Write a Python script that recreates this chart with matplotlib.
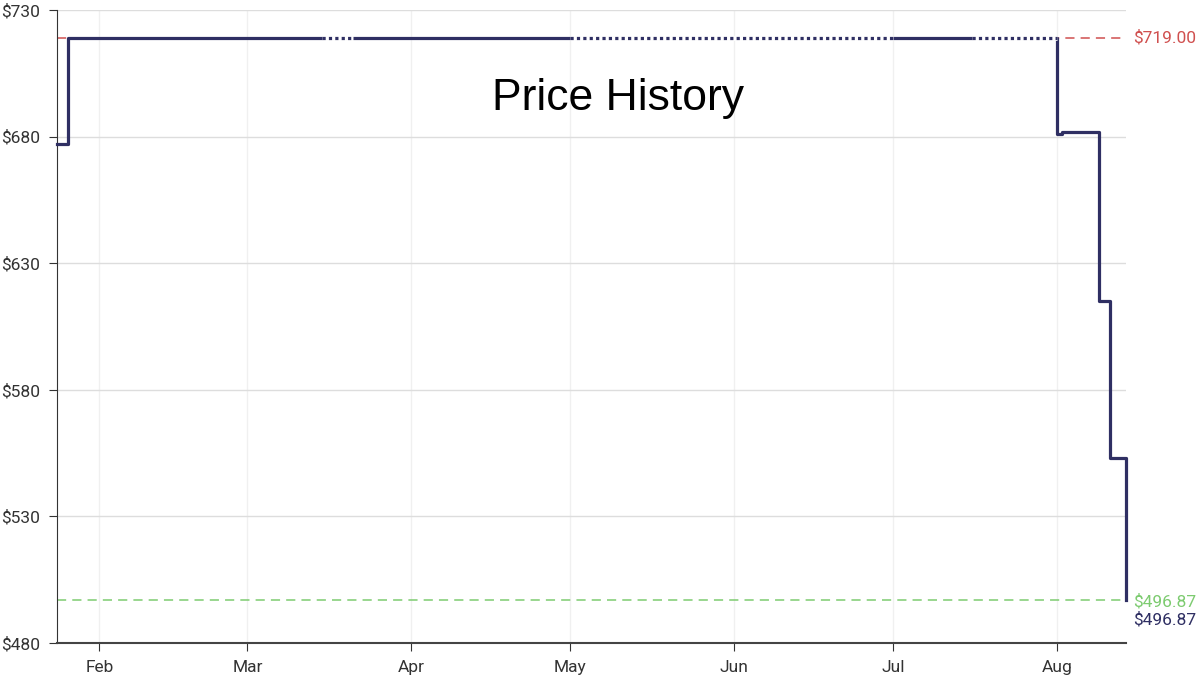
import matplotlib
matplotlib.use("Agg")
import matplotlib.pyplot as plt
import matplotlib.dates as mdates
import numpy as np
import pandas as pd

# price change points (step, held until next date)
dates = pd.to_datetime(["2025-01-24", "2025-01-26", "2025-08-01", "2025-08-02",
                        "2025-08-09", "2025-08-11", "2025-08-14"])
prices = [677, 719, 681, 682, 615, 553, 496.87]

# stretches with no data (drawn dotted)
gap_start = pd.to_datetime(["2025-03-15", "2025-05-01", "2025-07-16"])
gap_end = pd.to_datetime(["2025-03-21", "2025-07-01", "2025-08-01"])
gap_price = [719, 719, 719]

high_price = 719.00
low_price = 496.87
last_price = 496.87

yticks = [480, 530, 580, 630, 680, 730]
x_start = pd.Timestamp("2025-01-24")
x_end = pd.Timestamp("2025-08-14")

navy = "#2f2f63"
red = "#d0504f"
green = "#7dcb70"

plt.rcParams["font.family"] = ["Roboto", "DejaVu Sans"]

fig = plt.figure(figsize=(12, 6.81), dpi=100)
ax = fig.add_axes([0.0475, 0.0558, 0.8905, 0.9295])

ax.axhline(high_price, color=red, lw=1.1, ls=(0, (6, 4)), zorder=1)
ax.axhline(low_price, color=green, lw=1.1, ls=(0, (6, 4)), zorder=1)

ax.step(dates, prices, where="post", color=navy, lw=2.3, zorder=3, clip_on=False)
for s, e, p in zip(gap_start, gap_end, gap_price):
    ax.plot([s, e], [p, p], color="white", lw=3.5, zorder=4, solid_capstyle="butt")
    ax.plot([s, e], [p, p], color=navy, lw=2.3, ls=(0, (1, 1)), zorder=5)

ax.set_xlim(x_start, x_end)
ax.set_ylim(480, 730)
ax.set_yticks(yticks)
ax.set_yticklabels([f"${v}" for v in yticks])
ax.xaxis.set_major_locator(mdates.MonthLocator())
ax.xaxis.set_major_formatter(mdates.DateFormatter("%b"))

ax.grid(axis="y", color="#dddddd", lw=1)
ax.grid(axis="x", color="#f0f0f0", lw=1)
ax.set_axisbelow(True)
for side in ["top", "right"]:
    ax.spines[side].set_visible(False)
ax.spines["left"].set_color("#333333")
ax.spines["bottom"].set_color("#444444")
ax.spines["bottom"].set_linewidth(1.5)
ax.tick_params(axis="both", colors="#333333", labelsize=12.5, length=6, pad=6)
ax.tick_params(axis="x", pad=6)

ax.text(1.007, high_price, f"${high_price:.2f}", transform=ax.get_yaxis_transform(),
        color=red, fontsize=12.5, va="center", ha="left")
ax.text(1.007, low_price - 0.5, f"${low_price:.2f}", transform=ax.get_yaxis_transform(),
        color=green, fontsize=12.5, va="center", ha="left")
ax.text(1.007, last_price - 7.5, f"${last_price:.2f}", transform=ax.get_yaxis_transform(),
        color=navy, fontsize=12.5, va="center", ha="left")

ax.text(0.525, 0.86, "Price History", transform=ax.transAxes, ha="center", va="center",
        fontsize=32, family=["Liberation Sans", "DejaVu Sans"], color="black")

fig.savefig("out.png", dpi=100)
